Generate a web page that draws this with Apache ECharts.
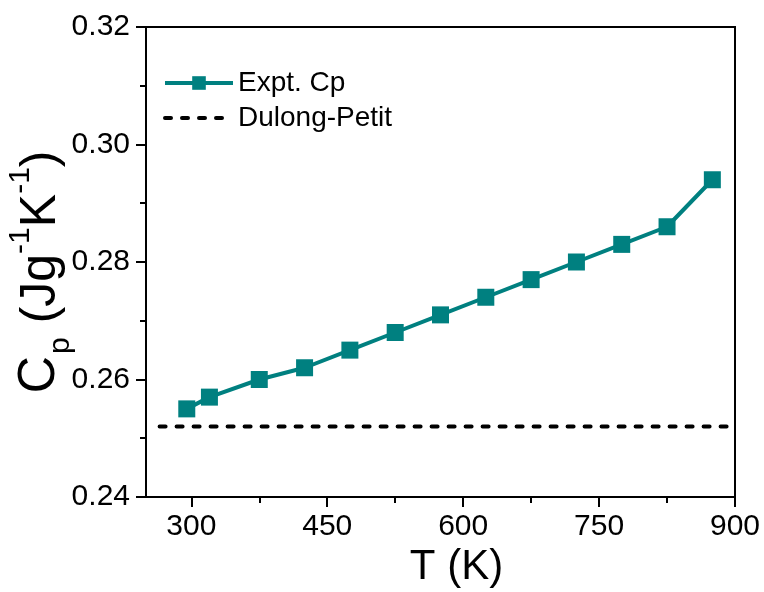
<!DOCTYPE html>
<html>
<head>
<meta charset="utf-8">
<script src="https://cdn.jsdelivr.net/npm/echarts@6/dist/echarts.min.js"></script>
<style>
	html, body { margin: 0; padding: 0; background: #fff; }
	#main { width: 764px; height: 592px; }
</style>
</head>
<body>
<div id="main"></div>
<script>
// data
var temps = [295, 320, 375, 425, 475, 525, 575, 625, 675, 725, 775, 825, 875];
var cpValues = [0.255, 0.257, 0.260, 0.262, 0.265, 0.268, 0.271, 0.274, 0.277, 0.280, 0.283, 0.286, 0.294];
var dulongT = [265, 900];
var dulongCp = [0.252, 0.252];
var xMajorTicks = [300, 450, 600, 750, 900];
var xMinorTicks = [375, 525, 675, 825];

var font = 'Liberation Sans';
var teal = '#008080';

function pairs(xs, ys) {
	var out = [];
	for (var i = 0; i < xs.length; i++) {
		out.push([xs[i], ys[i]]);
	}
	return out;
}

var ech = echarts.init(document.getElementById('main'));
var option = {
	animation: false,
	grid: {
		left: 146,
		right: 29,
		top: 27,
		bottom: 95,
		containLabel: false,
		outerBoundsMode: 'none',
		show: true,
		borderColor: '#000',
		borderWidth: 2
	},
	legend: {
		orient: 'vertical',
		left: 163,
		top: 69,
		padding: 0,
		itemWidth: 68,
		itemHeight: 17,
		itemGap: 7,
		lineStyle: { width: 4 },
		textStyle: {
			fontFamily: font,
			fontSize: 28,
			color: '#000'
		},
		data: [
			{ name: 'Expt. Cp' },
			{ name: 'Dulong-Petit', itemStyle: { opacity: 0 } }
		]
	},
	xAxis: [{
		type: 'value',
		min: 250,
		max: 900,
		position: 'bottom',
		name: 'T (K)',
		nameLocation: 'middle',
		nameGap: 46,
		nameTextStyle: {
			fontFamily: font,
			fontSize: 42,
			color: '#000',
			padding: [0, 0, 0, 32]
		},
		axisLine: { lineStyle: { color: '#000', width: 2 } },
		axisTick: {
			customValues: xMajorTicks,
			length: 10,
			lineStyle: { color: '#000', width: 2 }
		},
		axisLabel: {
			customValues: xMajorTicks,
			margin: 15,
			fontFamily: font,
			fontSize: 30,
			color: '#000'
		},
		splitLine: { show: false }
	}, {
		// minor ticks only
		type: 'value',
		min: 250,
		max: 900,
		position: 'bottom',
		axisLine: { show: false },
		axisTick: {
			customValues: xMinorTicks,
			length: 6,
			lineStyle: { color: '#000', width: 2 }
		},
		axisLabel: { show: false },
		splitLine: { show: false }
	}],
	yAxis: [{
		type: 'value',
		min: 0.24,
		max: 0.32,
		interval: 0.02,
		name: '{c|C}{sub|p}{n| (Jg}{sup|-1}{n|K}{sup|-1}{n|)}',
		nameLocation: 'middle',
		nameGap: 80,
		nameMoveOverlap: false,
		nameTextStyle: {
			fontFamily: font,
			color: '#000',
			padding: [0, 20, 0, 0],
			rich: {
				c: { fontFamily: font, fontSize: 52, color: '#000', verticalAlign: 'bottom', lineHeight: 58 },
				n: { fontFamily: font, fontSize: 50, color: '#000', verticalAlign: 'bottom', lineHeight: 58 },
				sub: { fontFamily: font, fontSize: 30, color: '#000', verticalAlign: 'bottom', lineHeight: 58, padding: [0, 0, -10, 2] },
				sup: { fontFamily: font, fontSize: 30, color: '#000', verticalAlign: 'top', lineHeight: 58, padding: [-2, 0, 0, 0] }
			}
		},
		axisLine: { lineStyle: { color: '#000', width: 2 } },
		axisTick: {
			length: 10,
			lineStyle: { color: '#000', width: 2 }
		},
		minorTick: {
			show: true,
			splitNumber: 2,
			length: 6,
			lineStyle: { color: '#000', width: 2 }
		},
		axisLabel: {
			margin: 16,
			fontFamily: font,
			fontSize: 30,
			color: '#000',
			formatter: function (v) { return v.toFixed(2); }
		},
		splitLine: { show: false }
	}],
	series: [{
		name: 'Expt. Cp',
		type: 'line',
		xAxisIndex: 0,
		data: pairs(temps, cpValues),
		symbol: 'rect',
		symbolSize: 17,
		itemStyle: { color: teal },
		lineStyle: { color: teal, width: 4 },
		z: 3
	}, {
		name: 'Dulong-Petit',
		type: 'line',
		xAxisIndex: 0,
		data: pairs(dulongT, dulongCp),
		symbol: 'none',
		itemStyle: { color: '#000' },
		lineStyle: { color: '#000', width: 4, type: [6, 11], cap: 'round' },
		z: 2
	}]
};
ech.setOption(option);
</script>
</body>
</html>
